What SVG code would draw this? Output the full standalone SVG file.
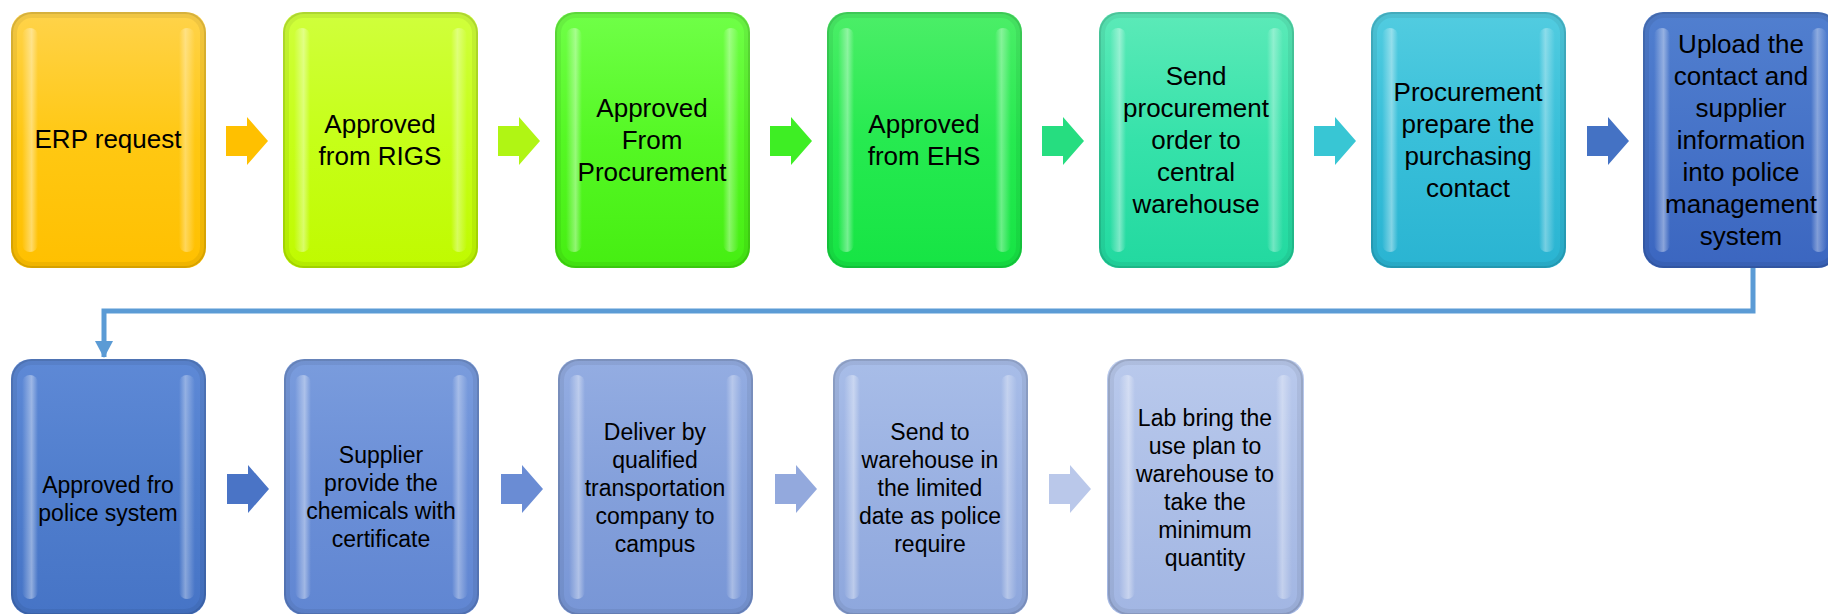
<svg xmlns="http://www.w3.org/2000/svg" xmlns:xlink="http://www.w3.org/1999/xlink" width="1828" height="614" viewBox="0 0 1828 614">
<style>
.t{font-family:"Liberation Sans",Arial,sans-serif;font-size:26px;fill:#000;text-anchor:middle}
.b{font-size:23px}
.conn{fill:none;stroke:#5B9BD5;stroke-width:5}
</style>
<defs>
<linearGradient id="hl" x1="0" y1="0" x2="1" y2="0"><stop offset="0" stop-color="#fff" stop-opacity="0"/><stop offset="0.6" stop-color="#fff" stop-opacity="0.4"/><stop offset="1" stop-color="#fff" stop-opacity="0"/></linearGradient>
<linearGradient id="hr" x1="1" y1="0" x2="0" y2="0"><stop offset="0" stop-color="#fff" stop-opacity="0"/><stop offset="0.6" stop-color="#fff" stop-opacity="0.35"/><stop offset="1" stop-color="#fff" stop-opacity="0"/></linearGradient>
<linearGradient id="g1" x1="0" y1="0" x2="0" y2="1"><stop offset="0" stop-color="#FFD34A"/><stop offset="0.5" stop-color="#FFC813"/><stop offset="1" stop-color="#FFC000"/></linearGradient>
<linearGradient id="g2" x1="0" y1="0" x2="0" y2="1"><stop offset="0" stop-color="#D0FF3C"/><stop offset="0.5" stop-color="#C6FF18"/><stop offset="1" stop-color="#C0FA00"/></linearGradient>
<linearGradient id="g3" x1="0" y1="0" x2="0" y2="1"><stop offset="0" stop-color="#70FF48"/><stop offset="0.5" stop-color="#55F824"/><stop offset="1" stop-color="#46EE12"/></linearGradient>
<linearGradient id="g4" x1="0" y1="0" x2="0" y2="1"><stop offset="0" stop-color="#4CEE68"/><stop offset="0.5" stop-color="#26EA50"/><stop offset="1" stop-color="#16E444"/></linearGradient>
<linearGradient id="g5" x1="0" y1="0" x2="0" y2="1"><stop offset="0" stop-color="#5CEAB8"/><stop offset="0.5" stop-color="#36E2AA"/><stop offset="1" stop-color="#22D9A0"/></linearGradient>
<linearGradient id="g6" x1="0" y1="0" x2="0" y2="1"><stop offset="0" stop-color="#52CCE0"/><stop offset="0.5" stop-color="#38BFD9"/><stop offset="1" stop-color="#2AB4D2"/></linearGradient>
<linearGradient id="g7" x1="0" y1="0" x2="0" y2="1"><stop offset="0" stop-color="#517FCF"/><stop offset="0.5" stop-color="#4673C8"/><stop offset="1" stop-color="#3B66C0"/></linearGradient>
<linearGradient id="g8" x1="0" y1="0" x2="0" y2="1"><stop offset="0" stop-color="#5E89D6"/><stop offset="0.5" stop-color="#507ECD"/><stop offset="1" stop-color="#4674C6"/></linearGradient>
<linearGradient id="g9" x1="0" y1="0" x2="0" y2="1"><stop offset="0" stop-color="#7A9CDD"/><stop offset="0.5" stop-color="#6B8FD7"/><stop offset="1" stop-color="#6086D2"/></linearGradient>
<linearGradient id="g10" x1="0" y1="0" x2="0" y2="1"><stop offset="0" stop-color="#94ADE2"/><stop offset="0.5" stop-color="#84A0DB"/><stop offset="1" stop-color="#7896D6"/></linearGradient>
<linearGradient id="g11" x1="0" y1="0" x2="0" y2="1"><stop offset="0" stop-color="#A8BDE8"/><stop offset="0.5" stop-color="#9AB1E2"/><stop offset="1" stop-color="#8EA7DD"/></linearGradient>
<linearGradient id="g12" x1="0" y1="0" x2="0" y2="1"><stop offset="0" stop-color="#B9C9EC"/><stop offset="0.5" stop-color="#ADBFE7"/><stop offset="1" stop-color="#A2B6E3"/></linearGradient>
<g id="bevel">
<rect x="1" y="1" width="193" height="254" rx="20" fill="none" stroke="#000" stroke-opacity="0.16" stroke-width="2"/>
<rect x="4" y="4" width="187" height="248" rx="17" fill="none" stroke="#000" stroke-opacity="0.06" stroke-width="4"/>
<rect x="11" y="16" width="16" height="224" rx="8" fill="url(#hl)"/>
<rect x="168" y="16" width="16" height="224" rx="8" fill="url(#hr)"/>
</g>
<path id="arr" d="M0,9 H21 V0 L42,24 L21,48 V39 H0 Z"/>
<marker id="ah" viewBox="0 0 17 18" refX="16" refY="9" markerWidth="17" markerHeight="18" markerUnits="userSpaceOnUse" orient="auto"><path d="M0,0 L17,9 L0,18 Z" fill="#5B9BD5"/></marker>
</defs>

<g id="connectors">
<path class="conn" d="M1753,268 V311 H104 V357" marker-end="url(#ah)"/>
<use href="#arr" x="226" y="117" fill="#FFC000"/>
<use href="#arr" x="498" y="117" fill="#B0F514"/>
<use href="#arr" x="770" y="117" fill="#3EEE24"/>
<use href="#arr" x="1042" y="117" fill="#26DD80"/>
<use href="#arr" x="1314" y="117" fill="#38C6D4"/>
<use href="#arr" x="1587" y="117" fill="#4472C4"/>
<use href="#arr" x="227" y="465" fill="#4A74C6"/>
<use href="#arr" x="501" y="465" fill="#6A8CD4"/>
<use href="#arr" x="775" y="465" fill="#93A9DD"/>
<use href="#arr" x="1049" y="465" fill="#BAC8EA"/>
</g>

<g id="n1"><rect x="11" y="12" width="195" height="256" rx="20" fill="url(#g1)"/><use href="#bevel" x="11" y="12"/>
<text class="t" x="108" y="148">ERP request</text></g>
<g id="n2"><rect x="283" y="12" width="195" height="256" rx="20" fill="url(#g2)"/><use href="#bevel" x="283" y="12"/>
<text class="t" x="380" y="133">Approved</text><text class="t" x="380" y="165">from RIGS</text></g>
<g id="n3"><rect x="555" y="12" width="195" height="256" rx="20" fill="url(#g3)"/><use href="#bevel" x="555" y="12"/>
<text class="t" x="652" y="117">Approved</text><text class="t" x="652" y="149">From</text><text class="t" x="652" y="181">Procurement</text></g>
<g id="n4"><rect x="827" y="12" width="195" height="256" rx="20" fill="url(#g4)"/><use href="#bevel" x="827" y="12"/>
<text class="t" x="924" y="133">Approved</text><text class="t" x="924" y="165">from EHS</text></g>
<g id="n5"><rect x="1099" y="12" width="195" height="256" rx="20" fill="url(#g5)"/><use href="#bevel" x="1099" y="12"/>
<text class="t" x="1196" y="85">Send</text><text class="t" x="1196" y="117">procurement</text><text class="t" x="1196" y="149">order to</text><text class="t" x="1196" y="181">central</text><text class="t" x="1196" y="213">warehouse</text></g>
<g id="n6"><rect x="1371" y="12" width="195" height="256" rx="20" fill="url(#g6)"/><use href="#bevel" x="1371" y="12"/>
<text class="t" x="1468" y="101">Procurement</text><text class="t" x="1468" y="133">prepare the</text><text class="t" x="1468" y="165">purchasing</text><text class="t" x="1468" y="197">contact</text></g>
<g id="n7"><rect x="1643" y="12" width="195" height="256" rx="20" fill="url(#g7)"/><use href="#bevel" x="1643" y="12"/>
<text class="t" x="1741" y="53">Upload the</text><text class="t" x="1741" y="85">contact and</text><text class="t" x="1741" y="117">supplier</text><text class="t" x="1741" y="149">information</text><text class="t" x="1741" y="181">into police</text><text class="t" x="1741" y="213">management</text><text class="t" x="1741" y="245">system</text></g>

<g id="n8"><rect x="11" y="359" width="195" height="256" rx="20" fill="url(#g8)"/><use href="#bevel" x="11" y="359"/>
<text class="t b" x="108" y="493">Approved fro</text><text class="t b" x="108" y="521">police system</text></g>
<g id="n9"><rect x="284" y="359" width="195" height="256" rx="20" fill="url(#g9)"/><use href="#bevel" x="284" y="359"/>
<text class="t b" x="381" y="463">Supplier</text><text class="t b" x="381" y="491">provide the</text><text class="t b" x="381" y="519">chemicals with</text><text class="t b" x="381" y="547">certificate</text></g>
<g id="n10"><rect x="558" y="359" width="195" height="256" rx="20" fill="url(#g10)"/><use href="#bevel" x="558" y="359"/>
<text class="t b" x="655" y="440">Deliver by</text><text class="t b" x="655" y="468">qualified</text><text class="t b" x="655" y="496">transportation</text><text class="t b" x="655" y="524">company to</text><text class="t b" x="655" y="552">campus</text></g>
<g id="n11"><rect x="833" y="359" width="195" height="256" rx="20" fill="url(#g11)"/><use href="#bevel" x="833" y="359"/>
<text class="t b" x="930" y="440">Send to</text><text class="t b" x="930" y="468">warehouse in</text><text class="t b" x="930" y="496">the limited</text><text class="t b" x="930" y="524">date as police</text><text class="t b" x="930" y="552">require</text></g>
<g id="n12"><rect x="1107" y="359" width="197" height="256" rx="20" fill="url(#g12)"/><use href="#bevel" x="1108" y="359"/>
<text class="t b" x="1205" y="426">Lab bring the</text><text class="t b" x="1205" y="454">use plan to</text><text class="t b" x="1205" y="482">warehouse to</text><text class="t b" x="1205" y="510">take the</text><text class="t b" x="1205" y="538">minimum</text><text class="t b" x="1205" y="566">quantity</text></g>
</svg>
